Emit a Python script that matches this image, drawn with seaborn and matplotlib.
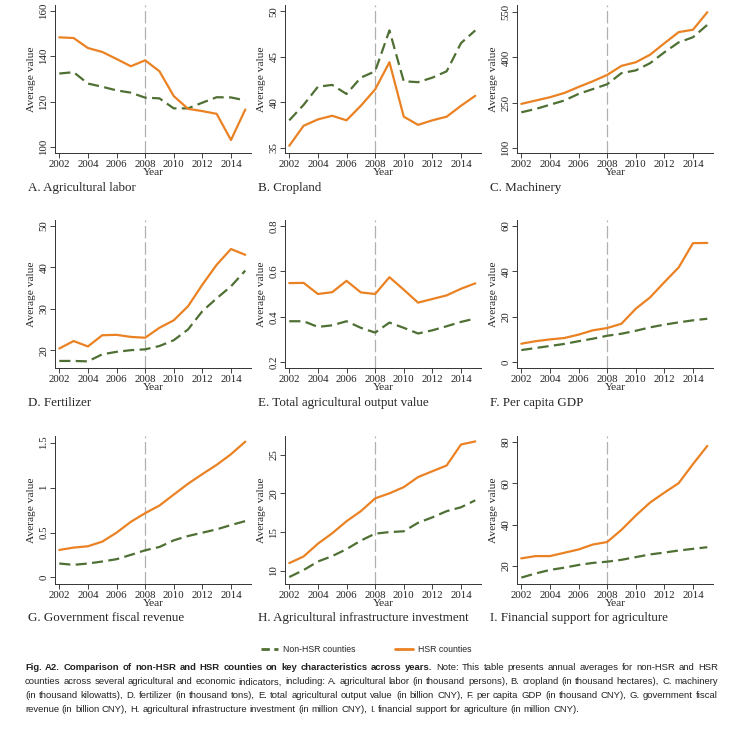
import matplotlib
matplotlib.use("Agg")
import matplotlib.pyplot as plt
import seaborn as sns
import pandas as pd
from matplotlib.lines import Line2D

# Data
years = list(range(2002, 2016))

labor_non = [132.4, 133.0, 128.0, 126.6, 125.0, 124.0, 121.8, 121.5, 117.1, 117.1, 119.6, 122.0, 121.9, 120.6]
labor_hsr = [148.3, 148.0, 143.6, 141.9, 138.8, 135.6, 138.2, 133.4, 122.5, 116.9, 115.9, 114.7, 103.2, 116.6]
crop_non = [38.0, 39.7, 41.7, 41.9, 40.9, 42.7, 43.4, 47.9, 42.3, 42.2, 42.7, 43.4, 46.5, 47.9]
crop_hsr = [35.2, 37.4, 38.1, 38.5, 38.0, 39.6, 41.4, 44.4, 38.4, 37.5, 38.0, 38.4, 39.6, 40.7]
mach_non = [218, 229, 243, 257, 279, 295, 311, 348, 357, 381, 417, 450, 467, 508]
mach_hsr = [246, 257, 268, 282, 302, 321, 342, 372, 384, 409, 447, 484, 492, 550]
fert_non = [17.4, 17.4, 17.3, 19.0, 19.6, 20.0, 20.2, 21.0, 22.4, 25.0, 29.4, 32.5, 35.4, 39.2]
fert_hsr = [20.4, 22.2, 20.9, 23.6, 23.7, 23.2, 23.0, 25.4, 27.2, 30.6, 35.8, 40.6, 44.4, 43.0]
output_non = [0.380, 0.380, 0.355, 0.362, 0.380, 0.351, 0.330, 0.374, 0.351, 0.326, 0.340, 0.358, 0.377, 0.392]
output_hsr = [0.548, 0.549, 0.500, 0.508, 0.558, 0.507, 0.500, 0.574, 0.519, 0.462, 0.478, 0.494, 0.523, 0.547]
gdp_non = [5.3, 6.2, 7.1, 8.0, 9.2, 10.3, 11.6, 12.5, 13.8, 15.3, 16.5, 17.5, 18.4, 19.1]
gdp_hsr = [8.1, 9.2, 10.0, 10.6, 12.1, 14.0, 15.0, 16.9, 23.5, 28.5, 35.2, 41.7, 52.4, 52.5]
fiscal_non = [0.155, 0.140, 0.155, 0.177, 0.203, 0.251, 0.302, 0.339, 0.413, 0.461, 0.498, 0.535, 0.583, 0.627]
fiscal_hsr = [0.306, 0.332, 0.347, 0.398, 0.498, 0.619, 0.715, 0.800, 0.922, 1.043, 1.150, 1.253, 1.371, 1.511]
infra_non = [9.2, 10.1, 11.2, 11.9, 12.8, 13.9, 14.8, 15.0, 15.1, 16.2, 16.9, 17.7, 18.2, 19.1]
infra_hsr = [11.0, 11.85, 13.5, 14.85, 16.4, 17.7, 19.35, 20.0, 20.8, 22.1, 22.85, 23.6, 26.3, 26.7]
support_non = [14.4, 16.4, 18.1, 19.2, 20.5, 21.5, 22.1, 23.0, 24.3, 25.6, 26.5, 27.5, 28.3, 29.1]
support_hsr = [23.7, 24.8, 24.8, 26.4, 28.0, 30.4, 31.6, 37.5, 44.4, 50.7, 55.5, 60.1, 69.3, 78.1]

titles = ["A. Agricultural labor", "B. Cropland", "C. Machinery",
          "D. Fertilizer", "E. Total agricultural output value", "F. Per capita GDP",
          "G. Government fiscal revenue", "H. Agricultural infrastructure investment",
          "I. Financial support for agriculture"]
series = [(labor_non, labor_hsr), (crop_non, crop_hsr), (mach_non, mach_hsr),
          (fert_non, fert_hsr), (output_non, output_hsr), (gdp_non, gdp_hsr),
          (fiscal_non, fiscal_hsr), (infra_non, infra_hsr), (support_non, support_hsr)]
yticks = [[100, 120, 140, 160], [35, 40, 45, 50], [100, 250, 400, 550],
          [20, 30, 40, 50], [0.2, 0.4, 0.6, 0.8], [0, 20, 40, 60],
          [0, 0.5, 1, 1.5], [10, 15, 20, 25], [20, 40, 60, 80]]
ytick_labels = [["100", "120", "140", "160"], ["35", "40", "45", "50"], ["100", "250", "400", "550"],
                ["20", "30", "40", "50"], ["0.2", "0.4", "0.6", "0.8"], ["0", "20", "40", "60"],
                ["0", "0.5", "1", "1.5"], ["10", "15", "20", "25"], ["20", "40", "60", "80"]]
ylims = [(97.5, 162.5), (34.4, 50.7), (83, 574), (15.7, 51.4), (0.174, 0.826),
         (-2.6, 62.6), (-0.073, 1.574), (8.3, 27.4), (11.3, 82.9)]

groups = ["Non-HSR counties", "HSR counties"]
green = "#4F7034"
orange = "#EA8224"

caption_lines = [
    [("Fig. A2. Comparison of non-HSR and HSR counties on key characteristics across years.", "bold"),
     ("Note: This table presents annual averages for non-HSR and HSR", "normal")],
    [("counties across several agricultural and economic indicators, including: A. agricultural labor "
      "(in thousand persons), B. cropland (in thousand hectares), C. machinery", "normal")],
    [("(in thousand kilowatts), D. fertilizer (in thousand tons), E. total agricultural output value "
      "(in billion CNY), F. per capita GDP (in thousand CNY), G. government fiscal", "normal")],
    [("revenue (in billion CNY), H. agricultural infrastructure investment (in million CNY), "
      "I. financial support for agriculture (in million CNY).", "normal")],
]

sns.set_style("ticks")
plt.rcParams["font.family"] = ["Liberation Serif", "DejaVu Serif"]

W, H = 744, 729
fig = plt.figure(figsize=(W / 100, H / 100), dpi=100)

col_left = [55, 285, 517]
row_top = [5, 220, 436]
title_y = [188, 403, 618]
ax_w, ax_h = 196, 148

for i, (title, (non, hsr)) in enumerate(zip(titles, series)):
    r, c = divmod(i, 3)
    ax = fig.add_axes([col_left[c] / W, 1 - (row_top[r] + ax_h) / H, ax_w / W, ax_h / H])
    df = pd.DataFrame({
        "Year": years * 2,
        "value": non + hsr,
        "group": [groups[0]] * len(years) + [groups[1]] * len(years),
    })
    sns.lineplot(data=df, x="Year", y="value", hue="group", style="group",
                 palette={groups[0]: green, groups[1]: orange},
                 dashes={groups[0]: (5, 2.4), groups[1]: ""},
                 linewidth=1.6, legend=False, ax=ax)
    ax.axvline(2008, color="#B0B0B0", lw=0.9, dashes=(10, 3), zorder=0)
    ax.set_xlim(2001.7, 2015.4)
    ax.set_ylim(*ylims[i])
    ax.set_xticks(range(2002, 2016, 2))
    ax.set_yticks(yticks[i])
    ax.set_yticklabels(ytick_labels[i], rotation=90, va="center")
    ax.tick_params(labelsize=7.8, length=3.5, width=0.6, pad=1.2, colors="#222222")
    for side in ["left", "bottom"]:
        ax.spines[side].set_linewidth(0.7)
        ax.spines[side].set_color("#333333")
    sns.despine(ax=ax)
    ax.set_xlabel("Year", fontsize=8.2)
    ax.set_ylabel("Average value", fontsize=8.2)
    ax.xaxis.set_label_coords(0.5, -0.135)
    ax.yaxis.set_label_coords(-0.118, 0.5)
    ax.xaxis.label.set_va("center")
    ax.yaxis.label.set_va("center")
    fig.text((col_left[c] - 27) / W, 1 - title_y[r] / H, title, fontsize=9.4,
             va="center", ha="left")

# Legend below the panels
handles = [Line2D([], [], color=green, lw=2, dashes=(3, 1.6)),
           Line2D([], [], color=orange, lw=2)]
cap_font = "Liberation Sans"
fig.legend(handles, groups, loc="center", bbox_to_anchor=(366 / W, 1 - 650 / H), ncol=2,
           frameon=False, handlelength=2.0, columnspacing=4.5, handletextpad=0.6,
           prop={"family": cap_font, "size": 6.3})

# Caption, justified line by line; font size chosen so the widest line fits
renderer = fig.canvas.get_renderer()
x0, x1 = 25, 718
caption_y = [668, 682, 695, 709]
base = 7.0


def measure(words, size):
    ws = []
    for w, wt in words:
        t = fig.text(0, 0, w, fontsize=size, family=cap_font, weight=wt)
        ws.append(t.get_window_extent(renderer).width)
        t.remove()
    return ws


word_lines = [[(w, wt) for part, wt in line for w in part.split(" ")] for line in caption_lines]
space = base * 100 / 72 * 0.28
natural = [sum(measure(wl, base)) + space * (len(wl) - 1) for wl in word_lines]
cap_size = base * (x1 - x0) / max(natural) * 0.99

for k, words in enumerate(word_lines):
    widths = measure(words, cap_size)
    if k < len(word_lines) - 1:
        gap = (x1 - x0 - sum(widths)) / (len(words) - 1)
    else:
        gap = cap_size * 100 / 72 * 0.28
    x = x0
    for (w, wt), wdt in zip(words, widths):
        fig.text(x / W, 1 - caption_y[k] / H, w, fontsize=cap_size, family=cap_font,
                 weight=wt, va="center", ha="left", color="#222222")
        x += wdt + gap

fig.savefig("out.png", dpi=100)
